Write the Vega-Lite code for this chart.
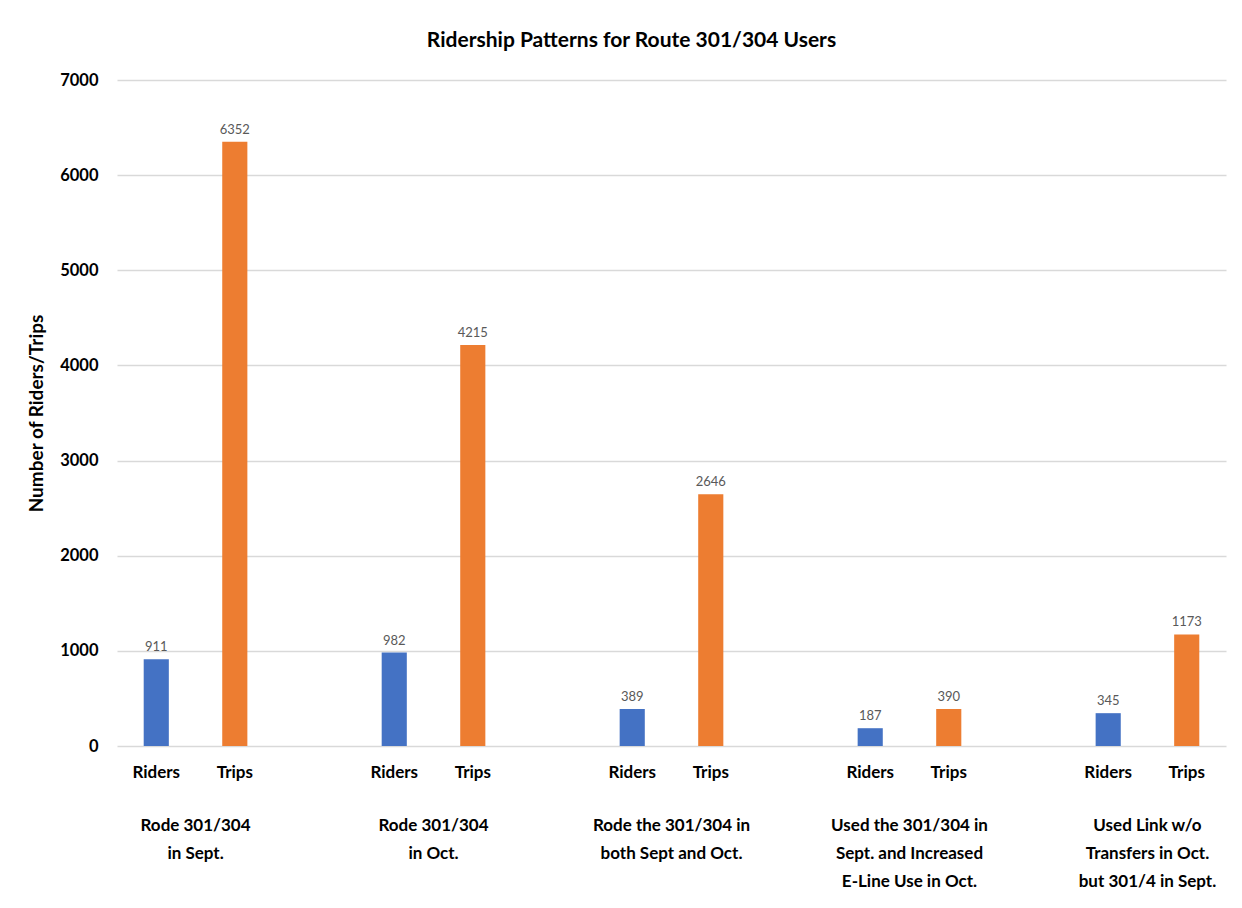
{
  "$schema": "https://vega.github.io/schema/vega-lite/v6.json",
  "autosize": {"type": "none"},
  "width": 1109,
  "height": 666,
  "padding": {"left": 117, "top": 80, "right": 16, "bottom": 162},
  "background": "white",
  "title": {
    "text": "Ridership Patterns for Route 301/304 Users",
    "font": "Lato",
    "fontSize": 21,
    "fontWeight": "bold",
    "color": "#000000",
    "offset": 21,
    "dx": -40
  },
  "data": {
    "values": [
      {"group": "Rode 301/304|in Sept.", "type": "Riders", "value": 911},
      {"group": "Rode 301/304|in Sept.", "type": "Trips", "value": 6352},
      {"group": "Rode 301/304|in Oct.", "type": "Riders", "value": 982},
      {"group": "Rode 301/304|in Oct.", "type": "Trips", "value": 4215},
      {"group": "Rode the 301/304 in|both Sept and Oct.", "type": "Riders", "value": 389},
      {"group": "Rode the 301/304 in|both Sept and Oct.", "type": "Trips", "value": 2646},
      {"group": "Used the 301/304 in|Sept. and Increased|E-Line Use in Oct.", "type": "Riders", "value": 187},
      {"group": "Used the 301/304 in|Sept. and Increased|E-Line Use in Oct.", "type": "Trips", "value": 390},
      {"group": "Used Link w/o|Transfers in Oct.|but 301/4 in Sept.", "type": "Riders", "value": 345},
      {"group": "Used Link w/o|Transfers in Oct.|but 301/4 in Sept.", "type": "Trips", "value": 1173}
    ]
  },
  "encoding": {
    "x": {
      "field": "group",
      "type": "nominal",
      "sort": null,
      "scale": {"paddingInner": 0.34, "paddingOuter": 0},
      "axis": {
        "title": null,
        "labelAngle": 0,
        "domain": false,
        "ticks": false,
        "labelPadding": 71,
        "labelBaseline": "top",
        "labelExpr": "split(datum.value, '|')",
        "labelLineHeight": 28,
        "labelFont": "Lato",
        "labelFontSize": 17,
        "labelFontWeight": "bold",
        "labelColor": "#000000",
        "labelLimit": 400
      }
    },
    "xOffset": {
      "field": "type",
      "type": "nominal",
      "sort": ["Riders", "Trips"],
      "scale": {"paddingInner": 0.68, "paddingOuter": 0.34}
    }
  },
  "layer": [
    {
      "mark": {"type": "bar"},
      "encoding": {
        "y": {
          "field": "value",
          "type": "quantitative",
          "scale": {"domain": [0, 7000], "nice": false},
          "axis": {
            "title": "Number of Riders/Trips",
            "titleFont": "Lato",
            "titleFontSize": 19,
            "titleFontWeight": "bold",
            "titleColor": "#000000",
            "titlePadding": 13,
            "values": [0, 1000, 2000, 3000, 4000, 5000, 6000, 7000],
            "format": "d",
            "domain": false,
            "ticks": false,
            "labelPadding": 19,
            "labelFont": "Lato",
            "labelFontSize": 16.5,
            "labelFontWeight": "bold",
            "labelColor": "#000000",
            "grid": true,
            "gridColor": "#d9d9d9",
            "gridWidth": 1.5
          }
        },
        "color": {
          "field": "type",
          "type": "nominal",
          "scale": {"domain": ["Riders", "Trips"], "range": ["#4472C4", "#ED7D31"]},
          "legend": null
        }
      }
    },
    {
      "mark": {"type": "text", "dy": -12, "font": "Lato", "fontSize": 13, "color": "#595959"},
      "encoding": {
        "y": {"field": "value", "type": "quantitative"},
        "text": {"field": "value", "type": "quantitative", "format": "d"}
      }
    },
    {
      "mark": {"type": "text", "dy": 27, "font": "Lato", "fontSize": 17, "fontWeight": "bold", "color": "#000000"},
      "encoding": {
        "y": {"datum": 0},
        "text": {"field": "type", "type": "nominal"}
      }
    }
  ],
  "config": {"view": {"stroke": null}}
}
